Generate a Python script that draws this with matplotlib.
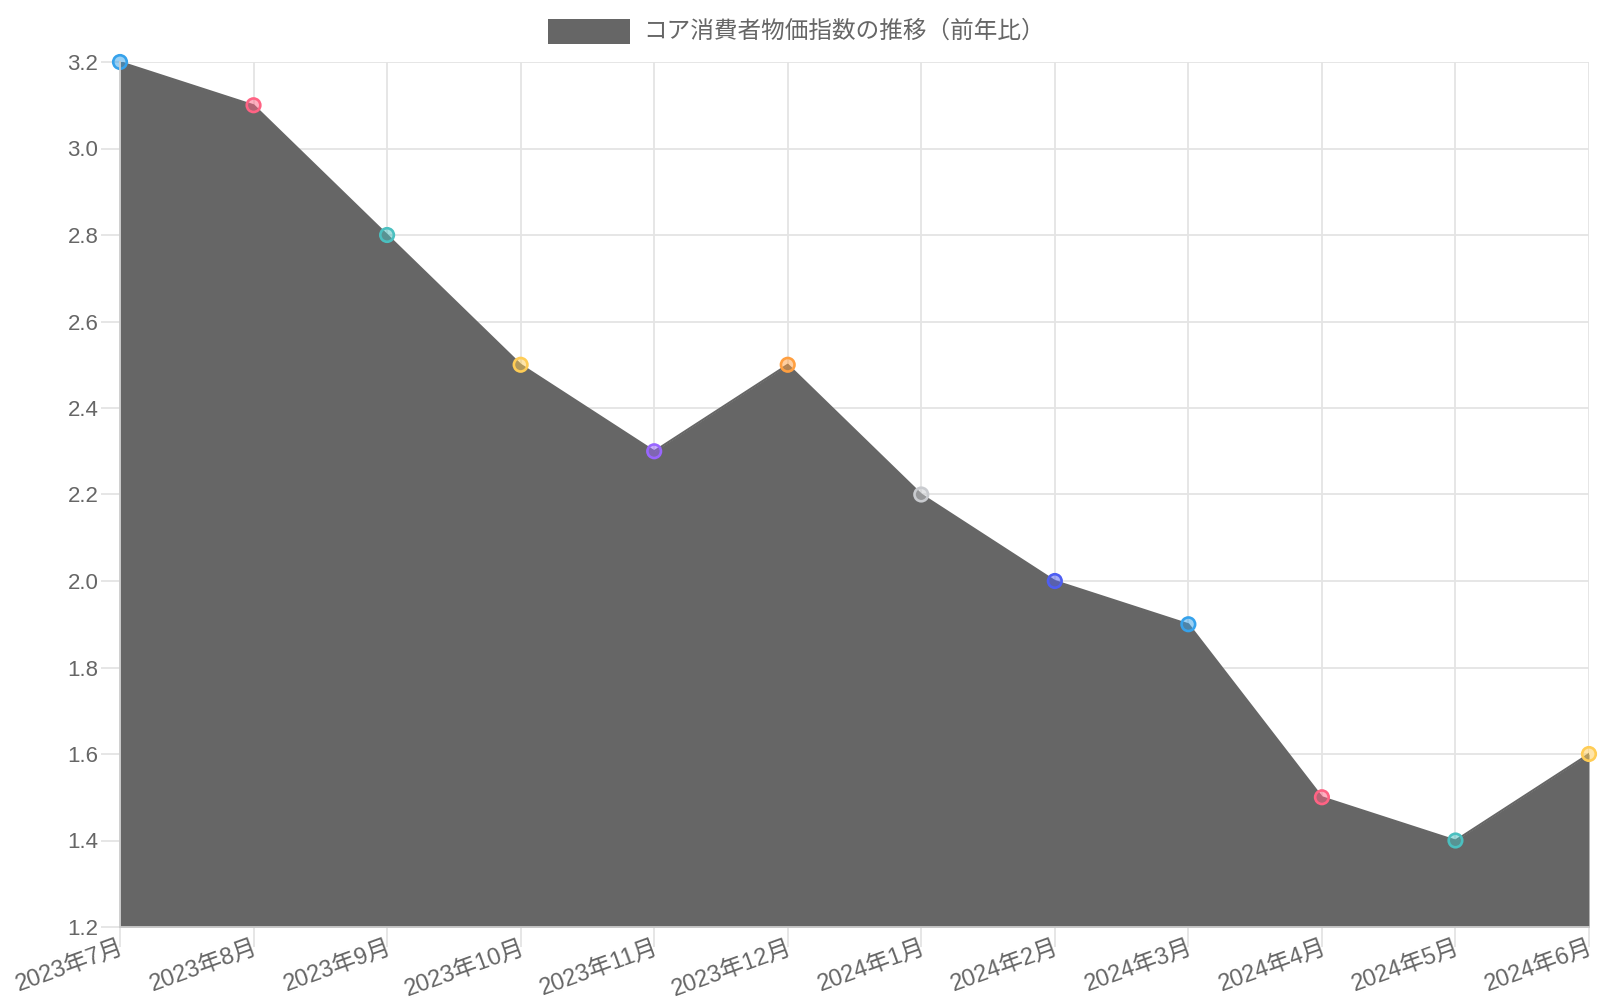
import matplotlib
matplotlib.use("Agg")
import matplotlib.pyplot as plt
from matplotlib.patches import Rectangle

plt.rcParams['font.family'] = ['Liberation Sans', 'Noto Sans CJK JP', 'DejaVu Sans']

months = ['2023年7月', '2023年8月', '2023年9月', '2023年10月', '2023年11月', '2023年12月',
          '2024年1月', '2024年2月', '2024年3月', '2024年4月', '2024年5月', '2024年6月']
core_cpi = [3.2, 3.1, 2.8, 2.5, 2.3, 2.5, 2.2, 2.0, 1.9, 1.5, 1.4, 1.6]
point_colors = ['#36a2eb', '#ff6384', '#4bc0c0', '#ffcd56', '#9966ff', '#ff9f40',
                '#c9cbcf', '#4e5ef2', '#36a2eb', '#ff6384', '#4bc0c0', '#ffcd56']
y_ticks = [1.2, 1.4, 1.6, 1.8, 2.0, 2.2, 2.4, 2.6, 2.8, 3.0, 3.2]
series_label = 'コア消費者物価指数の推移（前年比）'

text_color = '#666666'
grid_color = '#e4e4e4'
fill_color = '#666666'

fig = plt.figure(figsize=(16, 10), dpi=100)
# plot area in pixels: x 120..1589, y 62..927
ax = fig.add_axes([120 / 1600, 73 / 1000, 1469 / 1600, 865 / 1000])

x = list(range(len(months)))
ax.fill_between(x, 1.2, core_cpi, color=fill_color, linewidth=0, zorder=2)
ax.plot(x, core_cpi, color=fill_color, linewidth=1.5, zorder=3)

# points: coloured ring with a half transparent face
for xi, yi, c in zip(x, core_cpi, point_colors):
    ax.scatter([xi], [yi], s=95, facecolor=c, alpha=0.5, edgecolor='none', zorder=4, clip_on=False)
    ax.scatter([xi], [yi], s=95, facecolor='none', edgecolor=c, linewidth=1.9, zorder=5, clip_on=False)

ax.set_xlim(0, len(months) - 1)
ax.set_ylim(1.2, 3.2)
ax.set_yticks(y_ticks)
ax.set_yticklabels(['%.1f' % v for v in y_ticks])
ax.set_xticks(x)
ax.set_xticklabels(months, rotation=20, ha='right', va='top', rotation_mode='anchor')

ax.grid(True, color=grid_color, linewidth=1.3, zorder=0)
ax.set_axisbelow(True)
ax.tick_params(axis='both', colors=grid_color, labelcolor=text_color, labelsize=16,
               width=1.3)
ax.tick_params(axis='x', length=14.5, pad=-7, labelsize=17)
ax.tick_params(axis='y', length=13.5, pad=2)
for side in ['top', 'right']:
    ax.spines[side].set_visible(False)
for side in ['left', 'bottom']:
    ax.spines[side].set_color('#cccccc')
    ax.spines[side].set_linewidth(1.3)
    ax.spines[side].set_zorder(6)

# legend drawn by hand at the top
fig.patches.append(Rectangle((548 / 1600, 1 - 44 / 1000), 82 / 1600, 25 / 1000,
                             transform=fig.transFigure, facecolor=fill_color,
                             edgecolor='none'))
fig.text(643 / 1600, 1 - 32 / 1000, series_label, color=text_color, fontsize=17,
         ha='left', va='center')

fig.savefig('out.png', dpi=100)
